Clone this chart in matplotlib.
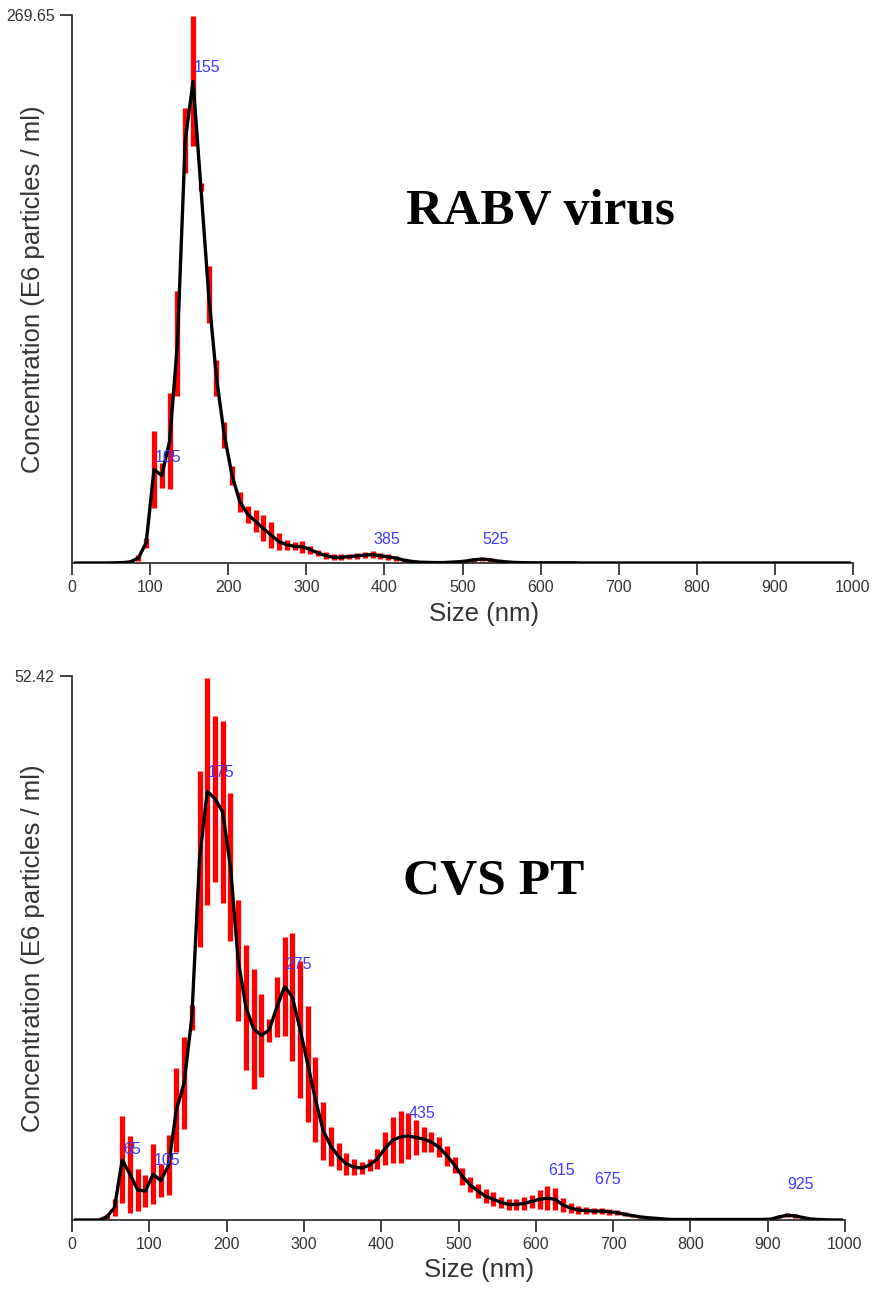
import numpy as np
import matplotlib
matplotlib.use('Agg')
import matplotlib.pyplot as plt

plt.rcParams['font.family'] = ['Liberation Sans', 'DejaVu Sans']

# ----- data (bin centres in nm, 10 nm bins) -----
sizes = np.arange(5, 1000, 10)

# RABV virus: mean concentration (E6 particles / ml) and error half-widths
rabv_mean = [
    0, 0, 0, 0, 0, 0.1, 0.2, 0.6, 2.5, 10,
    46, 43, 60, 108, 208, 237, 185, 132, 91, 63,
    43, 30, 24, 20.5, 17, 13.7, 10.5, 9, 8.2, 8,
    6.6, 4.9, 3.6, 2.8, 2.8, 3.2, 3.5, 3.9, 4.1, 3.6,
    3.0, 2.4, 1.4, 0.8, 0.4, 0.3, 0.2, 0.2, 0.4, 0.6,
    1.0, 1.6, 1.9, 1.6, 1.0, 0.6, 0.3, 0.2, 0.1, 0.1,
    0.1, 0.1, 0.1, 0.1, 0.1, 0, 0, 0, 0, 0,
    0, 0, 0, 0, 0, 0, 0, 0, 0, 0,
    0, 0, 0, 0, 0, 0, 0, 0, 0, 0,
    0, 0, 0, 0, 0, 0, 0, 0, 0, 0,
]
rabv_err = [
    0, 0, 0, 0, 0, 0, 0.2, 0.5, 1.5, 2.5,
    19, 6, 23.5, 26, 16, 32, 2, 14, 9, 6.5,
    4.5, 5, 4.2, 5.4, 6.4, 6.3, 4.2, 2.5, 2.0, 2.9,
    2.0, 1.6, 1.6, 1.4, 1.4, 1.4, 1.4, 1.5, 1.7, 1.5,
    1.3, 1.2, 0.8, 0.5, 0.3, 0.2, 0.1, 0.2, 0.3, 0.5,
    0.7, 1.0, 1.1, 1.0, 0.7, 0.5, 0.3, 0.2, 0.1, 0.1,
    0, 0, 0, 0, 0, 0, 0, 0, 0, 0,
    0, 0, 0, 0, 0, 0, 0, 0, 0, 0,
    0, 0, 0, 0, 0, 0, 0, 0, 0, 0,
    0, 0, 0, 0, 0, 0, 0, 0, 0, 0,
]
rabv_max = 269.65
rabv_peaks = [105, 155, 385, 525]

# CVS PT
cvs_mean = [
    0, 0, 0, 0, 0.3, 1.2, 5.8, 4.4, 2.9, 2.8,
    4.4, 3.8, 5.3, 10.6, 13.2, 19.5, 34.8, 41.3, 40.6, 39.3,
    34, 25, 20.5, 18.4, 17.8, 18.3, 20.5, 22.5, 21.5, 18.4,
    15, 11.6, 8.6, 7.1, 6.1, 5.4, 5.1, 5.0, 5.3, 5.9,
    6.9, 7.7, 8.0, 8.1, 7.95, 7.8, 7.5, 7.0, 6.2, 5.3,
    4.2, 3.4, 2.8, 2.3, 2.0, 1.7, 1.5, 1.5, 1.6, 1.8,
    2.0, 2.1, 2.0, 1.45, 1.15, 0.96, 0.9, 0.86, 0.86, 0.8,
    0.7, 0.55, 0.42, 0.3, 0.22, 0.16, 0.1, 0.05, 0.05, 0.05,
    0.05, 0.05, 0.05, 0.05, 0.05, 0.05, 0.05, 0.05, 0.05, 0.05,
    0.1, 0.3, 0.45, 0.4, 0.25, 0.1, 0.05, 0.02, 0, 0,
]
cvs_err = [
    0, 0, 0, 0, 0.3, 0.8, 4.2, 3.7, 2.0, 1.5,
    2.9, 1.6, 2.9, 4.0, 4.4, 1.2, 8.5, 10.9, 8.0, 8.8,
    7.1, 5.8, 6.0, 5.8, 4.0, 1.1, 2.9, 4.8, 6.2, 6.6,
    5.6, 4.1, 2.8, 1.9, 1.3, 1.05, 0.75, 0.6, 0.6, 0.95,
    1.6, 2.25, 2.55, 2.2, 1.65, 1.2, 0.95, 0.95, 0.95, 0.8,
    0.8, 0.7, 0.7, 0.65, 0.65, 0.55, 0.5, 0.5, 0.6, 0.65,
    0.9, 1.15, 1.05, 0.7, 0.5, 0.4, 0.35, 0.3, 0.3, 0.3,
    0.25, 0.2, 0.15, 0.1, 0.08, 0.05, 0.03, 0, 0, 0,
    0, 0, 0, 0, 0, 0, 0, 0, 0, 0,
    0.05, 0.15, 0.2, 0.2, 0.1, 0.05, 0, 0, 0, 0,
]
cvs_max = 52.42
cvs_peaks = [65, 105, 175, 275, 435, 615, 675, 925]

x_ticks = list(range(0, 1001, 100))

# ----- figure -----
W, H = 884, 1292
fig = plt.figure(figsize=(W / 100, H / 100), dpi=100)

# axes boxes in pixels: left, right, top, bottom
ax1 = fig.add_axes([72 / W, 1 - 563 / H, (853 - 72) / W, (563 - 15) / H])
ax2 = fig.add_axes([72 / W, 1 - 1220 / H, (845 - 72) / W, (1220 - 676) / H])

axis_col = '#333333'
peak_col = '#3c3cff'

# label offsets above the curve (points), one per peak
rabv_offsets = [3.2, 4.3, 5.8, 8.6]
cvs_offsets = [2.2, 4.3, 7.9, 10.8, 10.8, 14.4, 17.3, 16.6]


def draw_panel(ax, mean, err, ymax, peaks, offsets, xlab_y):
    mean = np.array(mean)
    err = np.array(err)
    ax.vlines(sizes, mean - err, mean + err, colors='red', linewidth=3.8,
              zorder=2)
    ax.plot(sizes, mean, color='black', linewidth=2.4, zorder=3,
            solid_joinstyle='round')

    for p, off in zip(peaks, offsets):
        v = mean[list(sizes).index(p)]
        ax.annotate(str(p), xy=(p, v), xytext=(0.5, off),
                    textcoords='offset points', ha='left', va='bottom',
                    color=peak_col, fontsize=11.5, zorder=4)

    ax.set_xlim(0, 1000)
    ax.set_ylim(0, ymax)
    ax.set_xticks(x_ticks)
    ax.set_xticklabels([str(t) for t in x_ticks])
    ax.set_yticks([ymax])
    ax.set_yticklabels([f'{ymax:.2f}'])

    for s in ['top', 'right']:
        ax.spines[s].set_visible(False)
    for s in ['left', 'bottom']:
        ax.spines[s].set_color(axis_col)
        ax.spines[s].set_linewidth(1.3)

    ax.tick_params(axis='both', direction='out', length=8.5, width=1.3,
                   colors=axis_col, labelsize=11.5, pad=4)

    ax.set_xlabel('Size (nm)', fontsize=18.5, color=axis_col, va='top')
    ax.xaxis.set_label_coords(0.527, xlab_y)
    ax.set_ylabel('Concentration (E6 particles / ml)', fontsize=18.5,
                  color=axis_col)
    ax.yaxis.set_label_coords(-0.035, 0.5)


draw_panel(ax1, rabv_mean, rabv_err, rabv_max, rabv_peaks, rabv_offsets, -0.072)
draw_panel(ax2, cvs_mean, cvs_err, cvs_max, cvs_peaks, cvs_offsets, -0.07)

fig.text(540 / W, 1 - 212 / H, 'RABV virus', ha='center', va='center',
         family='Liberation Serif', weight='bold', fontsize=37)
fig.text(494 / W, 1 - 882 / H, 'CVS PT', ha='center', va='center',
         family='Liberation Serif', weight='bold', fontsize=37)

fig.savefig('out.png', dpi=100)
